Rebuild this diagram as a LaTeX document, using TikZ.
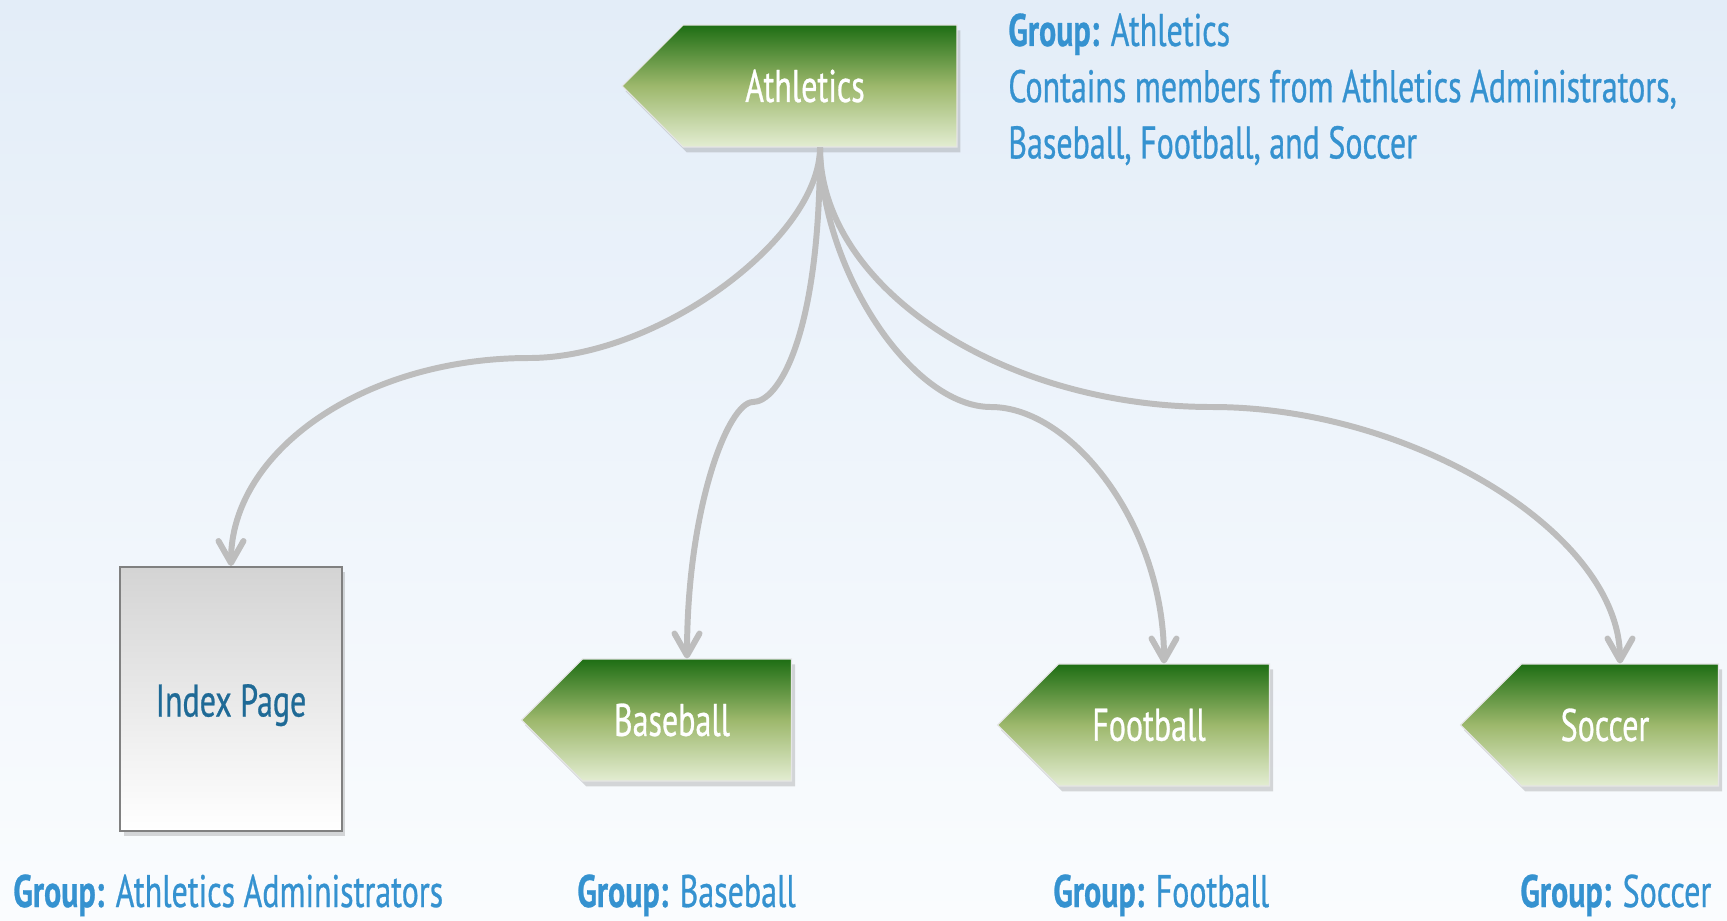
\documentclass[tikz,border=0pt]{standalone}
\usepackage{fontspec}
\setmainfont{PT Sans}[FakeStretch=0.70, FakeBold=0.6]
\usetikzlibrary{arrows.meta, positioning, shapes.symbols, shadows, calc}
\definecolor{GRPBLUE}{HTML}{3592D0}
\definecolor{PAGEBLUE}{HTML}{1F6A96}
\definecolor{LINKGRAY}{HTML}{BDBDBD}
\definecolor{TAGDARK}{HTML}{1E6E14}
\definecolor{TAGMID}{HTML}{9DB86C}
\definecolor{TAGLIGHT}{HTML}{E3EDD2}
\definecolor{BGTOP}{HTML}{E3EDF8}
\definecolor{BGBOTTOM}{HTML}{FAFCFE}

\begin{document}
\begin{tikzpicture}[x=0.02cm, y=-0.02cm,
    tag/.style={signal, signal to=west, signal pointer angle=90,
                top color=TAGDARK, bottom color=TAGLIGHT, middle color=TAGMID,
                draw=white!80!gray, line width=0.6pt,
                minimum height=2.44cm, text=white, inner sep=0pt,
                font=\fontsize{26}{30}\selectfont,
                execute at end node={\hspace*{0.6cm}},
                drop shadow={shadow xshift=2pt, shadow yshift=-3pt, opacity=0.3}},
    page/.style={rectangle, top color=black!17, bottom color=white,
                 draw=black!50, line width=1.2pt,
                 minimum width=4.44cm, minimum height=5.28cm,
                 text height=0.9cm, text depth=0.2cm,
                 text=PAGEBLUE, font=\fontsize{26}{30}\selectfont,
                 drop shadow={shadow xshift=2pt, shadow yshift=-3pt, opacity=0.3}},
    grp/.style={text=GRPBLUE, inner sep=0pt, font=\fontsize{26}{32}\selectfont},
    link/.style={LINKGRAY, line width=3.4pt,
                 -{Straight Barb[length=4.4mm, width=5mm, round]}}
  ]
  % background
  \shade[top color=BGTOP, bottom color=BGBOTTOM] (0,0) rectangle (1727,920);
  \useasboundingbox (0,0) rectangle (1727,920);

  % groups
  \node[tag, minimum width=6.7cm] (athletics) at (820,86) {Athletics};
  \node[page] (index) at (231,699) {Index Page};
  \node[tag, minimum width=5.4cm] (baseball) at (687,720) {Baseball};
  \node[tag, minimum width=5.44cm] (football) at (1164,725) {Football};
  \node[tag, minimum width=5.16cm] (soccer) at (1620,725) {Soccer};

  % labels
  \node[grp, anchor=north west, align=left] (lblathletics) at (1008,13)
    {\textbf{Group:} Athletics\\Contains members from Athletics Administrators,\\Baseball, Football, and Soccer};
  \node[grp, anchor=base west] (lbladmin) at (13,907) {\textbf{Group:} Athletics Administrators};
  \node[grp, anchor=base west] (lblbaseball) at (577,907) {\textbf{Group:} Baseball};
  \node[grp, anchor=base west] (lblfootball) at (1053,907) {\textbf{Group:} Football};
  \node[grp, anchor=base west] (lblsoccer) at (1520,907) {\textbf{Group:} Soccer};

  % bends of the links
  \coordinate (ixmid) at (529,358);
  \coordinate (bbmid) at (753,402);
  \coordinate (fbmid) at (991,407);
  \coordinate (scmid) at (1212,407);

  \draw[link] (athletics.south) .. controls +(0,90) and +(130,0) .. (ixmid)
    .. controls +(-165,0) and +(0,-115) .. (index.north);
  \draw[link] (athletics.south) .. controls +(0,190) and +(25,0) .. (bbmid)
    .. controls +(-25,0) and +(0,-150) .. (baseball.north);
  \draw[link] (athletics.south) .. controls +(0,120) and +(-80,0) .. (fbmid)
    .. controls +(80,0) and +(0,-140) .. (football.north);
  \draw[link] (athletics.south) .. controls +(0,140) and +(-210,0) .. (scmid)
    .. controls +(200,0) and +(0,-130) .. (soccer.north);
\end{tikzpicture}
\end{document}
